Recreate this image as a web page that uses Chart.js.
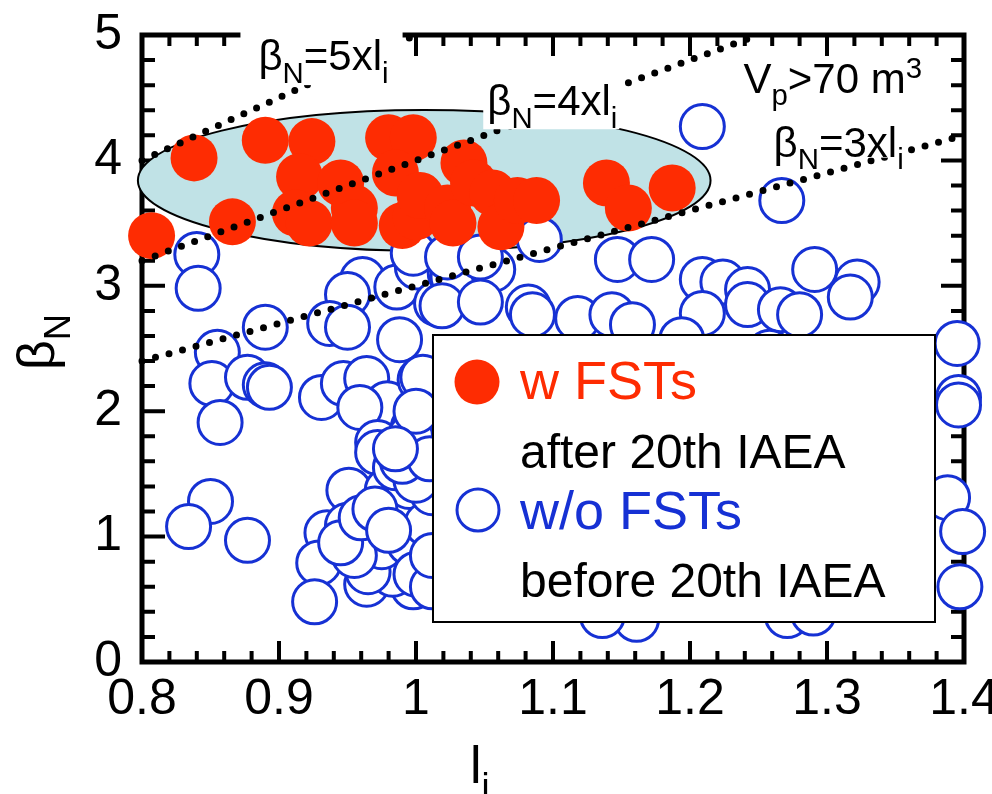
<!DOCTYPE html>
<html>
<head>
<meta charset="utf-8">
<script src="https://cdn.jsdelivr.net/npm/chart.js@4.4.1/dist/chart.umd.min.js"></script>
<style>
html, body { margin: 0; padding: 0; background: #fff; }
</style>
</head>
<body>
<canvas id="beta_chart" width="992" height="794"></canvas>
<script>
// shots with FSTs (after 20th IAEA)
var fstLi = [0.807, 0.838, 0.866, 0.890, 0.924, 0.915, 0.945, 0.912, 0.922, 0.980,
             0.998, 0.955, 0.955, 0.985, 0.990, 1.000, 1.003, 1.023, 1.027, 1.035,
             1.042, 1.056, 1.062, 1.074, 1.088, 1.139, 1.155, 1.187];
var fstBeta = [3.40, 4.02, 3.51, 4.16, 4.15, 3.87, 3.82, 3.58, 3.50, 4.18,
               4.18, 3.62, 3.50, 3.90, 3.48, 3.55, 3.72, 3.62, 3.50, 3.98,
               3.82, 3.74, 3.47, 3.68, 3.68, 3.82, 3.62, 3.78];

// shots without FSTs (before 20th IAEA)
var noFstLi = [0.840, 0.841, 0.890, 0.855, 0.851, 0.877, 0.890, 0.893, 0.857, 0.850,
               0.834, 0.877,
               0.961, 0.950, 0.937, 0.950, 0.988, 0.986, 1.001, 1.015, 1.025, 1.027,
               1.056, 0.998, 1.023, 1.047, 1.090,
               0.931, 0.947, 0.964, 0.979, 0.959, 0.998, 1.003, 1.005, 0.972, 0.972,
               0.996, 0.951, 0.979, 0.935, 0.950, 0.974, 0.929, 0.926, 0.964, 0.998,
               1.001, 0.998, 0.996,
               1.005, 1.010, 1.010, 1.010, 1.000, 1.010, 0.990, 0.980, 0.970, 0.960,
               0.990, 0.985, 0.995, 1.005, 0.985, 1.000,
               0.983, 0.965, 0.975, 0.995, 1.008, 1.012, 1.000, 0.990, 1.010, 0.985,
               0.955, 0.945, 0.960, 0.970, 0.980, 1.000, 1.012, 1.012,
               1.019, 1.047, 1.082, 1.085, 1.118, 1.143, 1.158, 1.147, 1.172, 1.209,
               1.224, 1.242, 1.209, 1.242, 1.266, 1.280, 1.291, 1.322, 1.317, 1.194,
               1.209, 1.267, 1.258,
               1.395, 1.396, 1.396, 1.388, 1.399, 1.397,
               1.161, 1.136, 1.271, 1.290,
               1.03, 1.06, 1.10, 1.15, 1.20, 1.22, 1.30, 1.34, 1.18, 1.25];
var noFstBeta = [3.25, 2.98, 2.67, 2.47, 2.22, 2.27, 2.21, 2.19, 1.91, 1.28,
                 1.08, 0.97,
                 3.05, 2.93, 2.70, 2.67, 2.57, 2.99, 3.15, 2.86, 3.10, 3.07,
                 3.13, 3.26, 3.23, 3.23, 3.37,
                 2.11, 2.22, 2.26, 2.06, 2.03, 1.87, 2.25, 2.27, 1.75, 1.67,
                 1.80, 1.37, 1.37, 1.03, 1.09, 1.11, 0.79, 0.48, 0.62, 1.16,
                 0.76, 0.60, 1.13,
                 1.30, 1.20, 1.05, 0.95, 0.85, 0.75, 0.90, 0.80, 0.85, 0.95,
                 1.00, 1.25, 1.40, 1.55, 1.55, 2.00,
                 0.70, 0.72, 0.92, 0.95, 1.10, 1.35, 1.45, 1.60, 1.62, 1.70,
                 0.85, 0.95, 1.15, 1.22, 1.05, 0.70, 0.60, 0.85,
                 2.84, 2.87, 2.83, 2.77, 2.74, 2.77, 2.69, 3.21, 3.21, 3.05,
                 3.03, 2.97, 2.78, 2.85, 2.81, 2.77, 3.13, 3.03, 2.91, 2.57,
                 4.27, 3.68, 2.47,
                 2.54, 2.11, 2.05, 1.31, 1.04, 0.60,
                 0.34, 0.37, 0.37, 0.39,
                 1.00, 2.40, 1.90, 1.20, 0.80, 2.40, 1.60, 2.20, 0.50, 0.55];

// beta_N = k x l_i limit lines
var limitSlopes = [5, 4, 3];

// V_p > 70 m3 operating region
var regionCenter = [1.006, 3.84];
var regionHalfAxes = [0.209, 0.562];

var fontFam = "'Liberation Sans', Arial, sans-serif";
var blue = '#1631d4';
var red = '#fe2c02';

function toPoints(xs, ys) {
    var pts = [];
    for (var i = 0; i < xs.length; i++) {
        pts.push({x: xs[i], y: ys[i]});
    }
    return pts;
}

function limitLine(k) {
    var xEnd = Math.min(1.4, 5 / k);
    return [{x: 0.8, y: 0.8 * k}, {x: xEnd, y: xEnd * k}];
}

// text with sub/superscripts, parts = [[text, 'sub'|'sup'|undefined], ...]
function richWidth(ctx, parts, size) {
    var w = 0;
    parts.forEach(function (p) {
        ctx.font = (p[1] ? size * 0.7 : size) + 'px ' + fontFam;
        w += ctx.measureText(p[0]).width;
    });
    return w;
}

function drawRich(ctx, parts, x, y, size) {
    var cx = x;
    parts.forEach(function (p) {
        var s = p[1] ? size * 0.7 : size;
        var dy = 0;
        if (p[1] === 'sub') dy = size * 0.3;
        if (p[1] === 'sup') dy = -size * 0.36;
        ctx.font = s + 'px ' + fontFam;
        ctx.fillText(p[0], cx, y + dy);
        cx += ctx.measureText(p[0]).width;
    });
    return cx - x;
}

var notes = [
    {parts: [['β'], ['N', 'sub'], ['=5xl'], ['i', 'sub']], x: 0.885, y: 4.72, box: [18, 9, 14, 15]},
    {parts: [['β'], ['N', 'sub'], ['=4xl'], ['i', 'sub']], x: 1.052, y: 4.36, box: [4, 0, 2, 14]},
    {parts: [['V'], ['p', 'sub'], ['>70 m'], ['3', 'sup']], x: 1.239, y: 4.54, box: null},
    {parts: [['β'], ['N', 'sub'], ['=3xl'], ['i', 'sub']], x: 1.261, y: 4.03, box: [4, 8, 4, 1]}
];

var framePlugin = {
    id: 'frame',
    beforeDatasetsDraw: function (chart) {
        var ctx = chart.ctx, a = chart.chartArea;
        var xs = chart.scales.x, ys = chart.scales.y;
        ctx.save();
        ctx.strokeStyle = '#000';
        ctx.lineWidth = 5;
        ctx.strokeRect(a.left, a.top, a.right - a.left, a.bottom - a.top);
        ctx.lineWidth = 4;
        ctx.beginPath();
        // x ticks every 0.02, major every 0.1
        for (var i = 0; i <= 30; i++) {
            var px = xs.getPixelForValue(0.8 + i * 0.02);
            var len = i % 5 === 0 ? 21 : 11;
            ctx.moveTo(px, a.bottom); ctx.lineTo(px, a.bottom - len);
            ctx.moveTo(px, a.top); ctx.lineTo(px, a.top + len);
        }
        // y ticks every 0.2, major every 1
        for (var j = 0; j <= 25; j++) {
            var py = ys.getPixelForValue(j * 0.2);
            var ylen = j % 5 === 0 ? 23 : 13;
            ctx.moveTo(a.left, py); ctx.lineTo(a.left + ylen, py);
            ctx.moveTo(a.right, py); ctx.lineTo(a.right - ylen, py);
        }
        ctx.stroke();

        // operating region
        var cx = xs.getPixelForValue(regionCenter[0]);
        var cy = ys.getPixelForValue(regionCenter[1]);
        var rx = xs.getPixelForValue(regionCenter[0] + regionHalfAxes[0]) - cx;
        var ry = cy - ys.getPixelForValue(regionCenter[1] + regionHalfAxes[1]);
        ctx.beginPath();
        ctx.ellipse(cx, cy, rx, ry, 0, 0, Math.PI * 2);
        ctx.fillStyle = '#c0e2e6';
        ctx.fill();
        ctx.lineWidth = 2;
        ctx.stroke();
        ctx.restore();
    },
    afterDatasetsDraw: function (chart) {
        var ctx = chart.ctx;
        var xs = chart.scales.x, ys = chart.scales.y;
        var size = 42;
        ctx.save();
        ctx.textBaseline = 'alphabetic';
        notes.forEach(function (n) {
            var x = xs.getPixelForValue(n.x);
            var y = ys.getPixelForValue(n.y);
            if (n.box) {
                var w = richWidth(ctx, n.parts, size);
                ctx.fillStyle = '#fff';
                ctx.fillRect(x - n.box[0], y - size * 0.78 - n.box[1],
                    w + n.box[0] + n.box[2], size * 0.78 + n.box[1] + n.box[3]);
            }
            ctx.fillStyle = '#000';
            drawRich(ctx, n.parts, x, y, size);
        });

        // legend box
        var lx = 433, ly = 335, lw = 502, lh = 287;
        ctx.fillStyle = '#fff';
        ctx.fillRect(lx, ly, lw, lh);
        ctx.strokeStyle = '#000';
        ctx.lineWidth = 2;
        ctx.strokeRect(lx, ly, lw, lh);

        ctx.beginPath();
        ctx.arc(lx + 44, ly + 47, 22.5, 0, Math.PI * 2);
        ctx.fillStyle = red;
        ctx.fill();
        ctx.beginPath();
        ctx.arc(lx + 45, ly + 175, 21, 0, Math.PI * 2);
        ctx.fillStyle = '#fff';
        ctx.fill();
        ctx.strokeStyle = blue;
        ctx.lineWidth = 3;
        ctx.stroke();

        ctx.font = '54px ' + fontFam;
        ctx.fillStyle = red;
        ctx.fillText('w FSTs', lx + 87, ly + 64);
        ctx.fillStyle = blue;
        ctx.fillText('w/o FSTs', lx + 87, ly + 194);
        ctx.font = '48px ' + fontFam;
        ctx.fillStyle = '#000';
        ctx.fillText('after 20th IAEA', lx + 87, ly + 133);
        ctx.fillText('before 20th IAEA', lx + 87, ly + 262);

        // axis titles
        drawRich(ctx, [['l'], ['i', 'sub']], 470, 783, 52);
        ctx.translate(54, 342);
        ctx.rotate(-Math.PI / 2);
        var tw = richWidth(ctx, [['β'], ['N', 'sub']], 52);
        drawRich(ctx, [['β'], ['N', 'sub']], -tw / 2, 0, 52);
        ctx.restore();
    }
};

var guideSets = limitSlopes.map(function (k) {
    return {
        data: limitLine(k),
        showLine: true,
        borderColor: '#000',
        borderWidth: 7,
        borderDash: [0, 14],
        borderCapStyle: 'round',
        pointRadius: 0,
        clip: false,
        order: 0
    };
});

new Chart(document.getElementById('beta_chart').getContext('2d'), {
    type: 'scatter',
    data: {
        datasets: guideSets.concat([{
            label: 'w FSTs',
            data: toPoints(fstLi, fstBeta),
            backgroundColor: red,
            borderColor: red,
            borderWidth: 0,
            pointRadius: 23.5,
            clip: false,
            order: 1
        }, {
            label: 'w/o FSTs',
            data: toPoints(noFstLi, noFstBeta),
            backgroundColor: '#fff',
            borderColor: blue,
            borderWidth: 3,
            pointRadius: 22,
            clip: false,
            order: 2
        }])
    },
    options: {
        responsive: false,
        animation: false,
        devicePixelRatio: 1,
        layout: {padding: {top: 35, right: 28, left: 0, bottom: 0}},
        plugins: {legend: {display: false}, tooltip: {enabled: false}},
        scales: {
            x: {
                type: 'linear', min: 0.8, max: 1.4,
                grid: {display: false, drawTicks: false},
                border: {display: false},
                ticks: {
                    stepSize: 0.1, color: '#000', padding: 8, maxRotation: 0, autoSkip: false,
                    font: {family: fontFam, size: 50},
                    callback: function (v) { return String(Math.round(v * 10) / 10); }
                },
                afterFit: function (s) { s.height = 132; s.paddingLeft = 0; s.paddingRight = 0; }
            },
            y: {
                type: 'linear', min: 0, max: 5,
                grid: {display: false, drawTicks: false},
                border: {display: false},
                ticks: {stepSize: 1, color: '#000', padding: 20, font: {family: fontFam, size: 50}},
                afterFit: function (s) { s.width = 142; s.paddingTop = 0; s.paddingBottom = 0; }
            }
        }
    },
    plugins: [framePlugin]
});
</script>
</body>
</html>
